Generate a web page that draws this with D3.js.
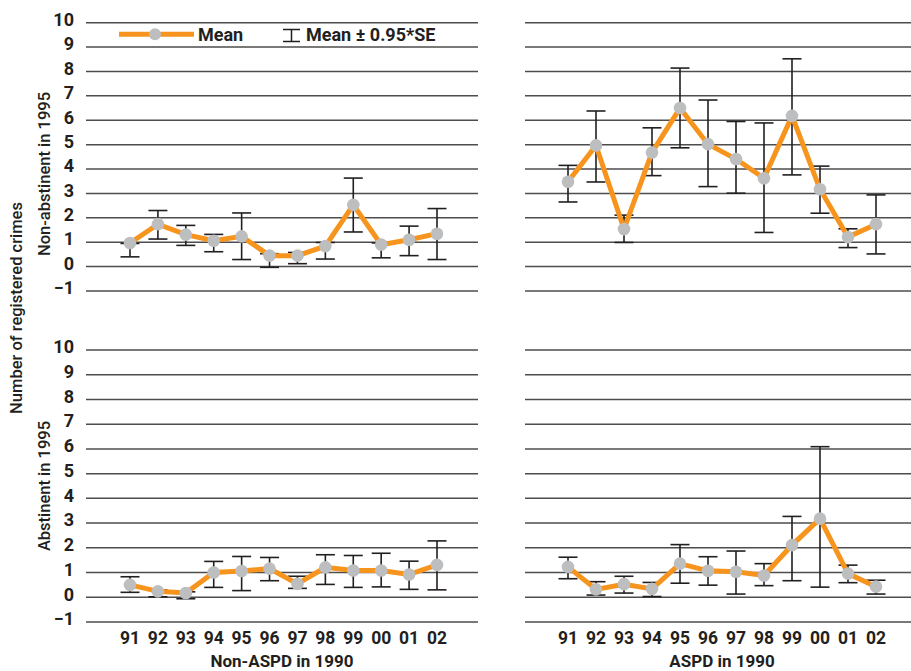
<!DOCTYPE html>
<html>
<head>
<meta charset="utf-8">
<script src="https://cdn.jsdelivr.net/npm/d3@7"></script>
<style>
  body { margin: 0; background: #fff; }
  text { font-family: Roboto, sans-serif; font-weight: 700; fill: #231f20; }
  text.side { font-weight: 500; }
</style>
</head>
<body>
<div id="chart"></div>
<script>
// Data
const years = ['91', '92', '93', '94', '95', '96', '97', '98', '99', '00', '01', '02'];
const yTicks = [-1, 0, 1, 2, 3, 4, 5, 6, 7, 8, 9, 10];

// Non-ASPD, non-abstinent
const nonAspdNonAbstMean = [0.97, 1.74, 1.31, 1.06, 1.24, 0.45, 0.45, 0.84, 2.53, 0.9, 1.1, 1.35];
const nonAspdNonAbstLow = [0.4, 1.13, 0.87, 0.61, 0.29, -0.03, 0.12, 0.31, 1.42, 0.36, 0.45, 0.29];
const nonAspdNonAbstHigh = [0.95, 2.3, 1.69, 1.32, 2.2, 0.53, 0.58, 0.99, 3.63, 0.97, 1.66, 2.38];

// ASPD, non-abstinent
const aspdNonAbstMean = [3.48, 4.97, 1.54, 4.68, 6.5, 5.02, 4.41, 3.62, 6.18, 3.17, 1.21, 1.74];
const aspdNonAbstLow = [2.65, 3.47, 0.99, 3.73, 4.87, 3.28, 3.01, 1.4, 3.76, 2.19, 0.78, 0.52];
const aspdNonAbstHigh = [4.15, 6.38, 2.11, 5.69, 8.14, 6.83, 5.95, 5.89, 8.52, 4.12, 1.55, 2.94];

// Non-ASPD, abstinent
const nonAspdAbstMean = [0.5, 0.24, 0.17, 1.0, 1.06, 1.16, 0.54, 1.21, 1.08, 1.08, 0.92, 1.31];
const nonAspdAbstLow = [0.2, 0.02, -0.06, 0.4, 0.27, 0.67, 0.36, 0.52, 0.4, 0.42, 0.32, 0.3];
const nonAspdAbstHigh = [0.83, 0.3, 0.22, 1.45, 1.65, 1.61, 0.85, 1.72, 1.69, 1.78, 1.46, 2.28];

// ASPD, abstinent
const aspdAbstMean = [1.23, 0.32, 0.53, 0.34, 1.36, 1.07, 1.03, 0.88, 2.11, 3.18, 0.96, 0.43];
const aspdAbstLow = [0.75, 0.09, 0.17, 0.03, 0.57, 0.49, 0.13, 0.47, 0.67, 0.41, 0.59, 0.13];
const aspdAbstHigh = [1.62, 0.63, 0.85, 0.6, 2.13, 1.64, 1.87, 1.36, 3.27, 6.09, 1.3, 0.69];

const orange = '#f7941d';
const grey = '#bcbec0';
const gridColor = '#4d4d4d';

const width = 911;
const height = 671;

const svg = d3
  .select('#chart')
  .append('svg')
  .attr('width', width)
  .attr('height', height);

// Scales
const xLeft = d3.scalePoint().domain(years).range([130, 437]);
const xRight = d3.scalePoint().domain(years).range([568, 876]);
const yTop = d3.scaleLinear().domain([-1, 10]).range([291, 22.7]);
const yBottom = d3.scaleLinear().domain([-1, 10]).range([622, 350]);

const panels = [
  { x: xLeft, y: yTop, x0: 86, x1: 478, mean: nonAspdNonAbstMean, lo: nonAspdNonAbstLow, hi: nonAspdNonAbstHigh, ticks: true },
  { x: xRight, y: yTop, x0: 525, x1: 911, mean: aspdNonAbstMean, lo: aspdNonAbstLow, hi: aspdNonAbstHigh, ticks: false },
  { x: xLeft, y: yBottom, x0: 86, x1: 478, mean: nonAspdAbstMean, lo: nonAspdAbstLow, hi: nonAspdAbstHigh, ticks: true },
  { x: xRight, y: yBottom, x0: 525, x1: 911, mean: aspdAbstMean, lo: aspdAbstLow, hi: aspdAbstHigh, ticks: false },
];

panels.forEach((p) => {
  const g = svg.append('g');

  // gridlines
  g.selectAll('line.grid')
    .data(yTicks)
    .join('line')
    .attr('x1', p.x0)
    .attr('x2', p.x1)
    .attr('y1', (d) => p.y(d))
    .attr('y2', (d) => p.y(d))
    .attr('stroke', gridColor)
    .attr('stroke-width', 1.5);

  if (p.ticks) {
    g.selectAll('text.tick')
      .data(yTicks)
      .join('text')
      .attr('x', 74)
      .attr('y', (d) => p.y(d) - 1.5)
      .attr('text-anchor', 'end')
      .attr('dominant-baseline', 'middle')
      .style('font-size', '18px')
      .text((d) => (d < 0 ? '\u2212' + Math.abs(d) : d));
  }

  const rows = years.map((yr, i) => ({ yr, m: p.mean[i], lo: p.lo[i], hi: p.hi[i] }));

  // error bars
  const eb = g.selectAll('g.err').data(rows).join('g');
  eb.append('line')
    .attr('x1', (d) => p.x(d.yr))
    .attr('x2', (d) => p.x(d.yr))
    .attr('y1', (d) => p.y(d.lo))
    .attr('y2', (d) => p.y(d.hi));
  eb.append('line')
    .attr('x1', (d) => p.x(d.yr) - 9.5)
    .attr('x2', (d) => p.x(d.yr) + 9.5)
    .attr('y1', (d) => p.y(d.lo))
    .attr('y2', (d) => p.y(d.lo));
  eb.append('line')
    .attr('x1', (d) => p.x(d.yr) - 9.5)
    .attr('x2', (d) => p.x(d.yr) + 9.5)
    .attr('y1', (d) => p.y(d.hi))
    .attr('y2', (d) => p.y(d.hi));
  eb.selectAll('line').attr('stroke', '#231f20').attr('stroke-width', 1.6);

  // mean line
  const line = d3
    .line()
    .x((d) => p.x(d.yr))
    .y((d) => p.y(d.m));
  g.append('path')
    .datum(rows)
    .attr('d', line)
    .attr('fill', 'none')
    .attr('stroke', orange)
    .attr('stroke-width', 5)
    .attr('stroke-linejoin', 'miter');

  g.selectAll('circle')
    .data(rows)
    .join('circle')
    .attr('cx', (d) => p.x(d.yr))
    .attr('cy', (d) => p.y(d.m))
    .attr('r', 6.3)
    .attr('fill', grey);
});

// X tick labels
[xLeft, xRight].forEach((x) => {
  svg
    .append('g')
    .selectAll('text')
    .data(years)
    .join('text')
    .attr('x', (d) => x(d))
    .attr('y', 644)
    .attr('text-anchor', 'middle')
    .style('font-size', '17.5px')
    .text((d) => d);
});

// Axis titles
svg.append('text').attr('x', 282).attr('y', 667).attr('text-anchor', 'middle').style('font-size', '17px').text('Non-ASPD in 1990');
svg.append('text').attr('x', 722).attr('y', 667).attr('text-anchor', 'middle').style('font-size', '17px').text('ASPD in 1990');

svg.append('text')
  .classed('side', true)
  .attr('transform', 'translate(22, 308) rotate(-90)')
  .attr('text-anchor', 'middle')
  .style('font-size', '16.5px')
  .text('Number of registered crimes');
svg.append('text')
  .classed('side', true)
  .attr('transform', 'translate(50, 174) rotate(-90)')
  .attr('text-anchor', 'middle')
  .style('font-size', '16.5px')
  .text('Non-abstinent in 1995');
svg.append('text')
  .classed('side', true)
  .attr('transform', 'translate(50, 486) rotate(-90)')
  .attr('text-anchor', 'middle')
  .style('font-size', '16.5px')
  .text('Abstinent in 1995');

// Legend
const legend = svg.append('g');
legend.append('line').attr('x1', 119).attr('x2', 194).attr('y1', 34.3).attr('y2', 34.3).attr('stroke', orange).attr('stroke-width', 5);
legend.append('circle').attr('cx', 155).attr('cy', 34.3).attr('r', 6).attr('fill', grey);
legend.append('text').attr('x', 198).attr('y', 41).style('font-size', '18px').text('Mean');
legend.append('line').attr('x1', 283).attr('x2', 300).attr('y1', 29.5).attr('y2', 29.5).attr('stroke', '#231f20').attr('stroke-width', 1.5);
legend.append('line').attr('x1', 283).attr('x2', 300).attr('y1', 41.5).attr('y2', 41.5).attr('stroke', '#231f20').attr('stroke-width', 1.5);
legend.append('line').attr('x1', 291.5).attr('x2', 291.5).attr('y1', 29.5).attr('y2', 41.5).attr('stroke', '#231f20').attr('stroke-width', 1.5);
legend.append('text').attr('x', 306).attr('y', 41).style('font-size', '18px').text('Mean \u00b1 0.95*SE');
</script>
</body>
</html>
